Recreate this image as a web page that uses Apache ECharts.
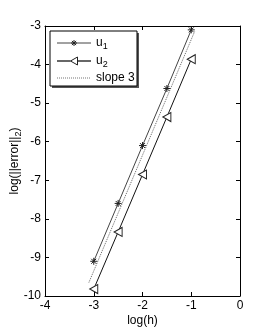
<!DOCTYPE html>
<html><head><meta charset="utf-8">
<script src="https://cdn.jsdelivr.net/npm/echarts@6/dist/echarts.min.js"></script>
<style>html,body{margin:0;padding:0;background:#fff}#c{width:266px;height:333px}</style>
</head><body><div id="c"></div>
<script>
const hValues = [-3, -2.5, -2, -1.5, -1];
const u1Values = [-9.1, -7.6, -6.1, -4.62, -3.1];
const u2Values = [-9.82, -8.34, -6.85, -5.36, -3.86];
const slopeX = [-3.1, -0.93];
const slopeY = [-9.65, -3.14];
const legendNames = ['u1', 'u2', 'slope 3'];
const legendLabels = ['u{sub|1}', 'u{sub|2}', 'slope 3'];

const pair = (xs, ys) => xs.map((x, i) => [x, ys[i]]);
const star = 'path://M5,0 L5,10 M0,5 L10,5 M1.5,1.5 L8.5,8.5 M8.5,1.5 L1.5,8.5';
const triLeft = 'path://M0,5 L10,0 L10,10 Z';
const font = 'Liberation Sans, Arial, sans-serif';
const axisCommon = {
  axisLine: {show: true, onZero: false, lineStyle: {color: '#000', width: 1}},
  axisTick: {show: true, inside: true, length: 4, lineStyle: {color: '#000'}},
  splitLine: {show: false}
};
const richSub = {sub: {fontFamily: font, fontSize: 9, color: '#000', verticalAlign: 'middle', padding: [8, 0, 0, 0]}};

// legend drawn as graphic (layout only)
const lgX = 50, lgY = 31, lgW = 87, lgH = 55;
const rowY = [43, 61, 78];
const sampleX0 = 57, sampleX1 = 91, markX = 74, textX = 96;
const lgChildren = [
  {type: 'rect', shape: {x: lgX + 2, y: lgY + 2, width: lgW, height: lgH}, style: {fill: '#555'}},
  {type: 'rect', shape: {x: lgX, y: lgY, width: lgW, height: lgH}, style: {fill: '#fff', stroke: '#000', lineWidth: 1}}
];
const seg = (x1, y1, x2, y2, stroke, w, dash) => ({type: 'line', shape: {x1, y1, x2, y2},
  style: {stroke, lineWidth: w || 1, lineDash: dash || null}});
// u1 sample
lgChildren.push(seg(sampleX0, rowY[0], sampleX1, rowY[0], '#444'));
lgChildren.push(seg(markX, rowY[0] - 3, markX, rowY[0] + 3, '#222'));
lgChildren.push(seg(markX - 3, rowY[0], markX + 3, rowY[0], '#222'));
lgChildren.push(seg(markX - 2.1, rowY[0] - 2.1, markX + 2.1, rowY[0] + 2.1, '#222'));
lgChildren.push(seg(markX + 2.1, rowY[0] - 2.1, markX - 2.1, rowY[0] + 2.1, '#222'));
// u2 sample
lgChildren.push(seg(sampleX0, rowY[1], markX - 3.5, rowY[1], '#000', 1.2));
lgChildren.push(seg(markX + 3.5, rowY[1], sampleX1, rowY[1], '#000', 1.2));
lgChildren.push({type: 'polygon', shape: {points: [[markX - 3.5, rowY[1]], [markX + 3.5, rowY[1] - 4], [markX + 3.5, rowY[1] + 4]]}, style: {stroke: '#222', fill: '#fff', lineWidth: 1}});
// slope sample
lgChildren.push(seg(sampleX0, rowY[2], sampleX1, rowY[2], '#777', 1, [1, 1]));
legendLabels.forEach((t, i) => {
  lgChildren.push({type: 'text', x: textX, y: rowY[i], style: {text: t, fontFamily: font, fontSize: 12, fill: '#000', verticalAlign: 'middle', align: 'left',
    rich: {sub: {fontFamily: font, fontSize: 9, fill: '#000', padding: [8, 0, 0, 0]}}}});
});

const chart = echarts.init(document.getElementById('c'));
chart.setOption({
  animation: false,
  backgroundColor: '#fff',
  grid: {left: 45, right: 26, top: 26, bottom: 37, containLabel: false, outerBoundsMode: 'none'},
  xAxis: [
    Object.assign({type: 'value', min: -4, max: 0, interval: 1, position: 'bottom',
      name: 'log(h)', nameLocation: 'middle', nameGap: 19, nameMoveOverlap: false,
      nameTextStyle: {fontFamily: font, fontSize: 12, color: '#000'},
      axisLabel: {fontFamily: font, fontSize: 12, color: '#000', margin: 4}}, axisCommon),
    Object.assign({type: 'value', min: -4, max: 0, interval: 1, position: 'top',
      axisLabel: {show: false}}, axisCommon)
  ],
  yAxis: [
    Object.assign({type: 'value', min: -10, max: -3, interval: 1, position: 'left',
      name: 'log(||error||{sub|2})', nameLocation: 'middle', nameGap: 30, nameRotate: 90, nameMoveOverlap: false,
      nameTextStyle: {fontFamily: font, fontSize: 12, color: '#000', verticalAlign: 'middle', rich: richSub},
      axisLabel: {fontFamily: font, fontSize: 12, color: '#000', margin: 4}}, axisCommon),
    Object.assign({type: 'value', min: -10, max: -3, interval: 1, position: 'right',
      axisLabel: {show: false}}, axisCommon)
  ],
  graphic: [{type: 'group', silent: true, z: 100, children: lgChildren}],
  series: [
    {name: legendNames[0], type: 'line', data: pair(hValues, u1Values), symbol: star, symbolSize: 7,
      lineStyle: {color: '#444', width: 1}, itemStyle: {color: 'none', borderColor: '#222', borderWidth: 1}},
    {name: legendNames[1], type: 'line', data: pair(hValues, u2Values), symbol: triLeft, symbolSize: [8, 9],
      lineStyle: {color: '#111', width: 1}, itemStyle: {color: '#fff', borderColor: '#222', borderWidth: 1}},
    {name: legendNames[2], type: 'line', data: pair(slopeX, slopeY), symbol: 'none',
      lineStyle: {color: '#666', width: 1, type: [1, 1]}}
  ]
});
</script></body></html>
